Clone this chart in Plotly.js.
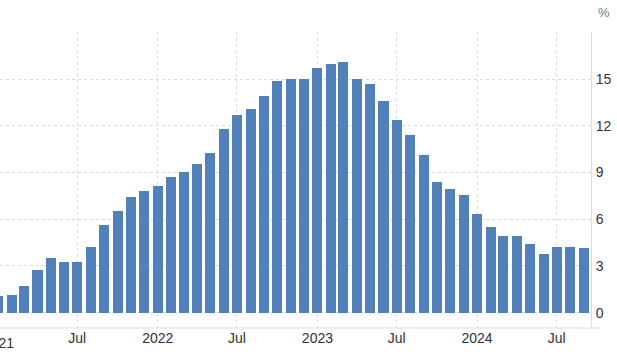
<!DOCTYPE html>
<html>
<head>
<meta charset="utf-8">
<script src="https://cdn.plot.ly/plotly-3.0.1.min.js"></script>
<style>
  html, body { margin: 0; padding: 0; background: #fff; }
  #chart { width: 617px; height: 358px; }
</style>
</head>
<body>
<div id="chart"></div>
<script>
const months = [
  "2021-01-01","2021-02-01","2021-03-01","2021-04-01","2021-05-01","2021-06-01",
  "2021-07-01","2021-08-01","2021-09-01","2021-10-01","2021-11-01","2021-12-01",
  "2022-01-01","2022-02-01","2022-03-01","2022-04-01","2022-05-01","2022-06-01",
  "2022-07-01","2022-08-01","2022-09-01","2022-10-01","2022-11-01","2022-12-01",
  "2023-01-01","2023-02-01","2023-03-01","2023-04-01","2023-05-01","2023-06-01",
  "2023-07-01","2023-08-01","2023-09-01","2023-10-01","2023-11-01","2023-12-01",
  "2024-01-01","2024-02-01","2024-03-01","2024-04-01","2024-05-01","2024-06-01",
  "2024-07-01","2024-08-01","2024-09-01"
];
const values = [
  1.07, 1.13, 1.71, 2.74, 3.51, 3.25, 3.25, 4.21, 5.62, 6.52, 7.42, 7.80,
  8.12, 8.70, 9.02, 9.53, 10.28, 11.78, 12.67, 13.06, 13.89, 14.85, 14.98, 14.98,
  15.69, 15.94, 16.07, 14.98, 14.65, 13.56, 12.40, 11.38, 10.10, 8.38, 7.93, 7.54,
  6.33, 5.49, 4.92, 4.92, 4.40, 3.76, 4.21, 4.21, 4.15
];
const xTickVals = ["2021-07-01","2022-01-01","2022-07-01","2023-01-01","2023-07-01","2024-01-01","2024-07-01"];
const xTickText = ["Jul","2022","Jul","2023","Jul","2024","Jul"];
const firstYearLabel = "2021";
const yTickVals = [0, 3, 6, 9, 12, 15, 18];
const yTickText = ["0", "3", "6", "9", "12", "15", ""];
const unitLabel = "%";

const barColor = "#5180bb";
const gridColor = "#dcdcdc";
const lineColor = "#dddddd";
const tickFont = {family: "Liberation Sans, Arial, sans-serif", size: 14, color: "#333"};

const trace = {
  type: "bar",
  x: months,
  y: values,
  width: 1.98e9,
  marker: {color: barColor, line: {width: 0}},
  hoverinfo: "x+y"
};

const layout = {
  width: 617,
  height: 358,
  margin: {l: 0, r: 26, t: 32, b: 30, pad: 0},
  paper_bgcolor: "#fff",
  plot_bgcolor: "#fff",
  showlegend: false,
  bargap: 0,
  xaxis: {
    type: "date",
    range: ["2021-01-05 07:00", "2024-09-17 10:00"],
    tickmode: "array",
    tickvals: xTickVals,
    ticktext: xTickText,
    showgrid: true,
    gridcolor: gridColor,
    griddash: "dot",
    gridwidth: 1,
    showline: false,
    zeroline: false,
    ticks: "",
    tickfont: tickFont,
    fixedrange: true
  },
  yaxis: {
    side: "right",
    range: [-0.985, 18.02],
    tickmode: "array",
    tickvals: yTickVals,
    ticktext: yTickText,
    showgrid: true,
    gridcolor: gridColor,
    griddash: "dot",
    gridwidth: 1,
    zeroline: false,
    showline: true,
    linecolor: lineColor,
    linewidth: 1,
    ticks: "",
    ticklabelstandoff: 1,
    tickfont: tickFont,
    fixedrange: true
  },
  shapes: [
    {type: "line", xref: "paper", yref: "paper", x0: 0, x1: 1.016, y0: 0, y1: 0,
     line: {color: lineColor, width: 1}}
  ],
  annotations: [
    {xref: "paper", yref: "paper", x: -0.0032, y: 0, yshift: -5, text: firstYearLabel,
     showarrow: false, xanchor: "center", yanchor: "top", font: tickFont},
    {xref: "paper", yref: "paper", x: 1.0, xshift: 5, y: 1, yshift: 10, text: unitLabel,
     showarrow: false, xanchor: "left", yanchor: "bottom",
     font: {family: "Liberation Sans, Arial, sans-serif", size: 13, color: "#777"}}
  ]
};

Plotly.newPlot("chart", [trace], layout, {displayModeBar: false, staticPlot: true});
</script>
</body>
</html>
